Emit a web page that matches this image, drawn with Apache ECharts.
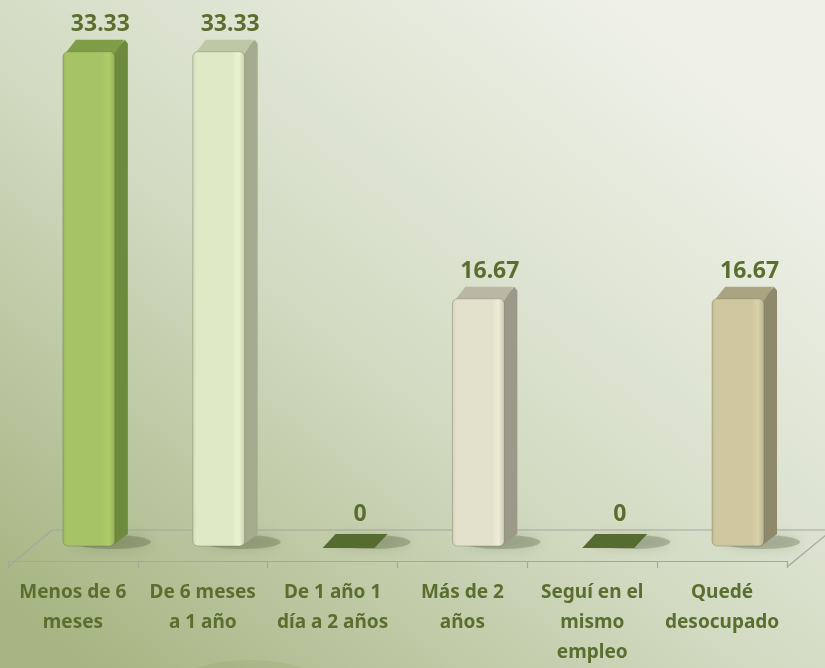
<!DOCTYPE html>
<html>
<head>
<meta charset="utf-8">
<script src="https://cdn.jsdelivr.net/npm/echarts@6/dist/echarts.min.js"></script>
<style>
  html, body { margin: 0; padding: 0; }
  #main { width: 825px; height: 668px; }
</style>
</head>
<body>
<div id="main"></div>
<script>
let categories = [
    'Menos de 6\nmeses',
    'De 6 meses\na 1 año',
    'De 1 año 1\ndía a 2 años',
    'Más de 2\naños',
    'Seguí en el\nmismo\nempleo',
    'Quedé\ndesocupado'
];
let values = [33.33, 33.33, 0, 16.67, 0, 16.67];

// face colours per bar: front, side, top
let frontColors = ['#a6c465', '#dfe9c6', '#556b2f', '#e3e1cc', '#556b2f', '#cec7a0'];
let sideColors = ['#6e8a3d', '#a4ab8f', '#556b2f', '#9b9987', '#556b2f', '#8e896a'];
let topColors = ['#7f9c47', '#bfc8a6', '#556b2f', '#bab8a4', '#556b2f', '#aaa482'];

let labelColor = '#5a6e2e';
let depthX = 13, depthY = -12, lift = 15;

// multiply rgb by f (f>1 lightens a bit, f<1 darkens)
function shade(hex, f) {
    const n = parseInt(hex.slice(1), 16);
    const c = [(n >> 16) & 255, (n >> 8) & 255, n & 255].map(x => Math.max(0, Math.min(255, Math.round(x * f))));
    return 'rgb(' + c.join(',') + ')';
}

function renderBar(params, api) {
    const i = api.value(0);
    const v = api.value(1);
    const base = api.coord([i, 0]);
    const topPt = api.coord([i, v]);
    const band = api.size([1, 0])[0];
    const w = band * 0.4;
    const x0 = base[0] - band * 0.077;
    const y0 = base[1] - lift;
    const yt = topPt[1] - lift;
    const children = [];

    // soft shadow on the floor
    children.push({
        type: 'ellipse',
        shape: { cx: x0 + w * 0.75 + 10, cy: y0 - 4, rx: w * 0.75, ry: 7 },
        style: { fill: 'rgba(70,80,45,0.28)', shadowBlur: 12, shadowColor: 'rgba(70,80,45,0.6)' },
        silent: true
    });

    if (v > 0) {
        children.push({
            type: 'polygon',
            shape: { points: [[x0 + w - 3, yt + 2], [x0 + w + depthX - 3, yt + depthY], [x0 + w + depthX, yt + depthY + 4], [x0 + w + depthX, y0 + depthY], [x0 + w - 3, y0]] },
            style: { fill: sideColors[i] }
        });
        children.push({
            type: 'polygon',
            shape: { points: [[x0 + 2, yt + 2], [x0 + depthX, yt + depthY], [x0 + w + depthX - 4, yt + depthY], [x0 + w, yt + 2]] },
            style: { fill: topColors[i] }
        });
        children.push({
            type: 'rect',
            shape: { x: x0, y: yt, width: w, height: y0 - yt, r: 5 },
            style: {
                fill: {
                    type: 'linear', x: 0, y: 0, x2: 1, y2: 0,
                    colorStops: [
                        { offset: 0, color: shade(frontColors[i], 0.92) },
                        { offset: 0.08, color: frontColors[i] },
                        { offset: 0.75, color: frontColors[i] },
                        { offset: 0.88, color: shade(frontColors[i], 1.05) },
                        { offset: 1, color: shade(frontColors[i], 0.88) }
                    ]
                },
                stroke: 'rgba(90,90,60,0.3)',
                lineWidth: 1
            }
        });
    } else {
        children.push({
            type: 'polygon',
            shape: { points: [[x0, y0 + 2], [x0 + depthX, y0 + depthY], [x0 + w + depthX, y0 + depthY], [x0 + w, y0 + 2]] },
            style: { fill: frontColors[i] }
        });
    }

    children.push({
        type: 'text',
        style: {
            text: String(v),
            x: x0 + w / 2 + depthX / 2 + 5,
            y: yt + depthY - (v > 0 ? 15 : 20),
            align: 'center',
            verticalAlign: 'middle',
            fill: labelColor,
            font: 'bold 23px "Noto Sans"'
        }
    });

    return { type: 'group', children: children };
}

let option = {
    backgroundColor: {
        type: 'linear', x: 0.75, y: 0, x2: 0.1, y2: 1,
        colorStops: [
            { offset: 0, color: '#eff1e9' },
            { offset: 0.5, color: '#d3dbc3' },
            { offset: 1, color: '#a6b582' }
        ]
    },
    animation: false,
    graphic: [
        {
            type: 'ellipse', z: -1,
            shape: { cx: 250, cy: 730, rx: 115, ry: 70 },
            style: { fill: 'rgba(120,140,80,0.15)' }
        },
        {
            type: 'polyline', z: 0,
            shape: { points: [[8, 567], [52, 530], [832, 530]] },
            style: { stroke: '#a3a8a0', lineWidth: 1.2, fill: null }
        },
        {
            type: 'line', z: 0,
            shape: { x1: 787, y1: 567, x2: 832, y2: 530 },
            style: { stroke: '#a3a8a0', lineWidth: 1.2 }
        }
    ],
    grid: { left: 8, right: 38, top: 42, bottom: 101 },
    xAxis: {
        type: 'category',
        data: categories,
        axisLine: { lineStyle: { color: '#a3a8a0', width: 1.2 } },
        axisTick: { show: true, length: 7, interval: 0, lineStyle: { color: '#a3a8a0', width: 1.2 } },
        axisLabel: {
            interval: 0,
            margin: 17,
            color: labelColor,
            fontFamily: 'Noto Sans',
            fontWeight: 'bold',
            fontSize: 19,
            lineHeight: 30
        }
    },
    yAxis: {
        type: 'value',
        min: 0,
        max: 35,
        show: false,
        splitLine: { show: false }
    },
    series: [{
        type: 'custom',
        renderItem: renderBar,
        data: values.map((v, i) => [i, v]),
        encode: { x: 0, y: 1 }
    }]
};

let plot = echarts.init(document.querySelector('#main'));
plot.setOption(option);
</script>
</body>
</html>
